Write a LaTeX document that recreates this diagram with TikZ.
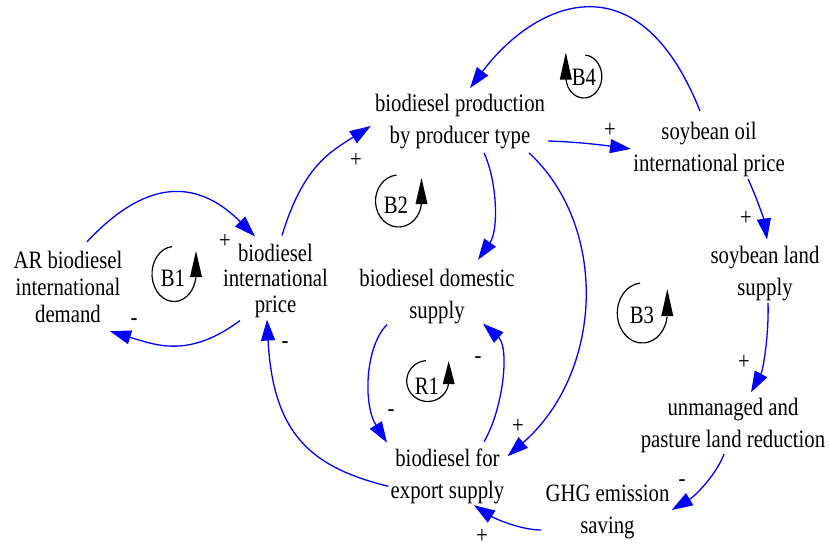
\documentclass[tikz,border=0pt]{standalone}
\usepackage{fontspec}
\setmainfont{Liberation Serif}[FakeStretch=0.83]
\usetikzlibrary{arrows.meta}

\definecolor{linkblue}{RGB}{0,0,255}

% strut: 18pt above the baseline, 5pt below
\newcommand\vstr{\rule[-5pt]{0pt}{23pt}}

% loop marker: open ellipse with an upward arrow head on one side
% #1 x, #2 y, #3 x radius, #4 y radius, #5 side (1 right, -1 left), #6 tip height
\newcommand\cldloop[6]{%
  \begin{scope}[shift={(#1,#2)}, y=1pt, xscale=#5]
    \draw[loopline] (95:#3 and #4) arc[start angle=95, end angle=353, x radius=#3, y radius=#4];
    \fill ({#3-6},-3) -- ({#3+6},-3) -- (#3,#6) -- cycle;
  \end{scope}}

\tikzset{
  var/.style={align=center, inner sep=0pt, font=\fontsize{25}{32}\selectfont},
  var3/.style={var, font=\fontsize{25}{27}\selectfont},
  link/.style={draw=linkblue, line width=1.3pt, -{Triangle[length=21pt,width=14pt]}},
  polarity/.style={inner sep=0pt, font=\fontsize{25}{25}\selectfont},
  loopline/.style={draw=black, line width=1.2pt},
  looplabel/.style={inner sep=0pt, font=\fontsize{25}{25}\selectfont},
}

\begin{document}
\begin{tikzpicture}[x=1pt, y=-1pt]
  \fill[white] (0,0) rectangle (829,546);
  \path[use as bounding box] (0,0) rectangle (829,546);

  % variables
  \node[var3] (ar)  at (68,288.5)  {\vstr AR biodiesel\\international\\demand\vstr};
  \node[var, font=\fontsize{25}{25.5}\selectfont] (bip) at (275.5,280.5) {\vstr biodiesel\\international\\price\vstr};
  \node[var] (bp)   at (460,121)   {\vstr biodiesel production\\by producer type\vstr};
  \node[var] (bds)  at (437,295.7) {\vstr biodiesel domestic\\supply\vstr};
  \node[var] (bfe)  at (447.5,476.3) {\vstr biodiesel for\\export supply\vstr};
  \node[var] (soip) at (709,148.9) {\vstr soybean oil\\international price\vstr};
  \node[var] (sls)  at (765,272.7) {\vstr soybean land\\supply\vstr};
  \node[var] (upl)  at (733,425.2) {\vstr unmanaged and\\pasture land reduction\vstr};
  \node[var] (ghg)  at (607.5,511) {\vstr GHG emission\\saving\vstr};

  % causal links
  \draw[link] ([shift={(19,-8)}]ar.north) .. controls +(57,-61) and +(-60,-60) .. ([shift={(-20.5,-6.7)}]bip.north);
  \draw[link] ([shift={(-35.5,2.7)}]bip.south) .. controls +(-51,38) and +(46,14) .. ([shift={(42,4)}]ar.south);
  \draw[link] ([shift={(6.5,-7.7)}]bip.north) .. controls +(21,-69) and +(-41,26) .. ([shift={(-4,5)}]bp.west);
  \draw[link] ([shift={(-9,-10)}]soip.north) .. controls +(-63,-158) and +(63,-84) .. ([shift={(10,-5)}]bp.north);
  \draw[link] ([shift={(3,20)}]bp.east) .. controls +(30,1) and +(-30,-4) .. ([shift={(-2,0)}]soip.west);
  \draw[link] ([shift={(24,4)}]bp.south) .. controls +(13,28) and +(21,-30) .. ([shift={(41,-8)}]bds.north);
  \draw[link] ([shift={(69,4)}]bp.south) .. controls +(80,74) and +(96,-84) .. ([shift={(3,-20)}]bfe.east);
  \draw[link] ([shift={(-50,1)}]bds.south) .. controls +(-22,22) and +(-24,-38) .. ([shift={(-60.5,-5.7)}]bfe.north);
  \draw[link] ([shift={(36.5,-6.7)}]bfe.north) .. controls +(19,-32) and +(27,24) .. ([shift={(46,0)}]bds.south);
  \draw[link] ([shift={(-2,10)}]bfe.west) .. controls +(-78,-19) and +(6,114) .. ([shift={(-8.5,1.7)}]bip.south);
  \draw[link] ([shift={(39,2.3)}]soip.south) .. controls +(8,17) and +(-3,-20) .. ([shift={(2,-5.3)}]sls.north);
  \draw[link] ([shift={(3,2)}]sls.south) .. controls +(1,33) and +(12,-22) .. ([shift={(18,-5)}]upl.north);
  \draw[link] ([shift={(-9,1)}]upl.south) .. controls +(-7,19) and +(25,-15) .. ([shift={(2,-1)}]ghg.east);
  \draw[link] ([shift={(-4,19)}]ghg.west) .. controls +(-21,0) and +(20,13) .. ([shift={(26.5,1)}]bfe.south);

  % link polarities
  \node[polarity] (p1)  at (225,241) {+};
  \node[polarity] (p2)  at (134,322) {-};
  \node[polarity] (p3)  at (285,345) {-};
  \node[polarity] (p4)  at (356,160) {+};
  \node[polarity] (p5)  at (610,130) {+};
  \node[polarity] (p6)  at (391,413) {-};
  \node[polarity] (p7)  at (478,360) {-};
  \node[polarity] (p8)  at (518,426) {+};
  \node[polarity] (p9)  at (482,536) {+};
  \node[polarity] (p10) at (746,218) {+};
  \node[polarity] (p11) at (744,362) {+};
  \node[polarity] (p12) at (682,483) {-};

  % loop markers
  \cldloop{174}{274}{22}{27.5}{1}{23}
  \cldloop{398.5}{201}{23}{26}{1}{23}
  \cldloop{427.7}{381}{21}{20.5}{1}{20}
  \cldloop{642.3}{313}{25}{30}{1}{24}
  \cldloop{583.8}{76.5}{18}{21.5}{-1}{24}
  \node[looplabel] (B1) at (173,278) {B1};
  \node[looplabel] (B2) at (396,205) {B2};
  \node[looplabel] (R1) at (427,386) {R1};
  \node[looplabel] (B3) at (642,315) {B3};
  \node[looplabel] (B4) at (584,77)  {B4};
\end{tikzpicture}
\end{document}
